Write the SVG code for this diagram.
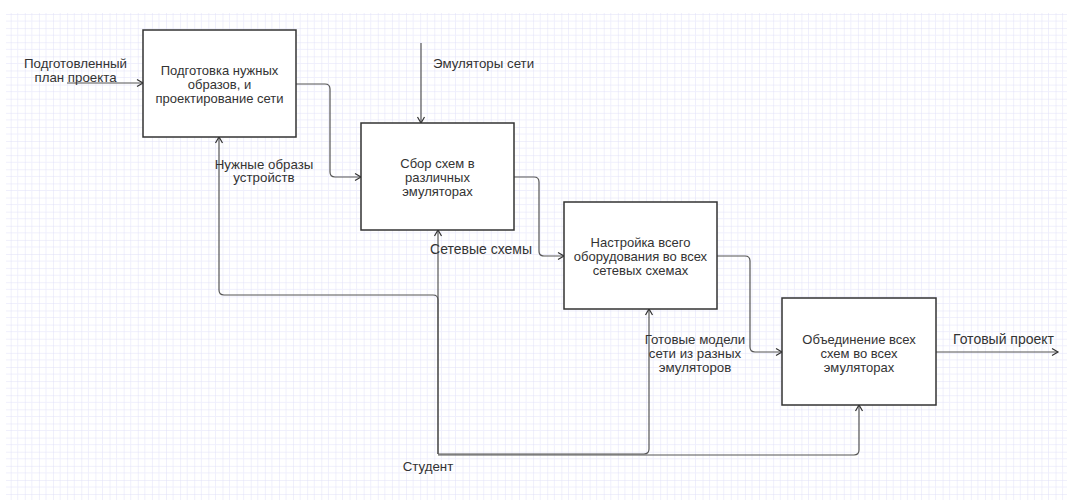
<svg xmlns="http://www.w3.org/2000/svg" width="1067" height="500" viewBox="0 0 1067 500">
  <defs>
    <pattern id="grid" patternUnits="userSpaceOnUse" x="10.7" y="14" width="14.12" height="14.12">
      <path d="M7.06,0 V14.12 M0,7.06 H14.12" stroke="#efeffc" stroke-width="1" fill="none"/>
      <path d="M0,0 V14.12 M0,0 H14.12" stroke="#e0e0f7" stroke-width="1" fill="none"/>
    </pattern>
    <marker id="arr" markerWidth="10" markerHeight="10" refX="8" refY="5" orient="auto" markerUnits="userSpaceOnUse">
      <path d="M2,1.5 L8,5 L2,8.5" fill="none" stroke="#333" stroke-width="1.2"/>
    </marker>
    <style>
      .box { fill: #ffffff; stroke: #333333; stroke-width: 1.5; }
      .t { font-family: "Liberation Sans", Arial, sans-serif; font-size: 13px; fill: #333333; }
      .l { font-size: 13.3px; }
      .xl { font-size: 14px; }
      .c { text-anchor: middle; }
      .edge { fill: none; stroke: #555555; stroke-width: 1.2; marker-end: url(#arr); }
    </style>
  </defs>
  <rect width="1067" height="500" fill="#ffffff"/>
  <rect x="6" y="13" width="1061" height="487" fill="url(#grid)"/>

  <g id="connectors">
    <path class="edge" d="M67,83 H143"/>
    <path class="edge" d="M296,84 H325 Q330,84 330,89 V172 Q330,177 335,177 H361"/>
    <path class="edge" d="M421,43 V123"/>
    <path class="edge" d="M514,177 H534 Q539,177 539,182 V251 Q539,256 544,256 H564"/>
    <path class="edge" d="M717,256 H745 Q750,256 750,261 V347 Q750,352 755,352 H782"/>
    <path class="edge" d="M936,352 H1058"/>
    <path class="edge" d="M438,454 V230"/>
    <path class="edge" d="M438,454 V300 Q438,295 433,295 H224 Q219,295 219,290 V137"/>
    <path class="edge" d="M438,454 H644 Q649,454 649,449 V309"/>
    <path class="edge" d="M438,455 H854 Q859,455 859,450 V405"/>
  </g>

  <g id="node-prep">
    <rect class="box" x="143" y="30" width="153" height="107"/>
    <text class="t c" x="219.5" y="74.5">Подготовка нужных</text>
    <text class="t c" x="219.5" y="88.5">образов, и</text>
    <text class="t c" x="219.5" y="102.5">проектирование сети</text>
  </g>
  <g id="node-collect">
    <rect class="box" x="361" y="123" width="153" height="107"/>
    <text class="t c" x="437.5" y="167.5">Сбор схем в</text>
    <text class="t c" x="437.5" y="181.5">различных</text>
    <text class="t c" x="437.5" y="195.5">эмуляторах</text>
  </g>
  <g id="node-config">
    <rect class="box" x="564" y="202" width="153" height="107"/>
    <text class="t c" x="640.5" y="246.5">Настройка всего</text>
    <text class="t c" x="640.5" y="260.5">оборудования во всех</text>
    <text class="t c" x="640.5" y="274.5">сетевых схемах</text>
  </g>
  <g id="node-merge">
    <rect class="box" x="782" y="298" width="154" height="107"/>
    <text class="t c" x="859" y="343.5">Объединение всех</text>
    <text class="t c" x="859" y="357.5">схем во всех</text>
    <text class="t c" x="859" y="371.5">эмуляторах</text>
  </g>

  <g id="labels">
    <text class="t l c" x="75.5" y="67.5">Подготовленный</text>
    <text class="t l c" x="75.5" y="81.5">план проекта</text>
    <text class="t l" x="433" y="67.5">Эмуляторы сети</text>
    <text class="t l c" x="264" y="168.5">Нужные образы</text>
    <text class="t l c" x="264" y="181.5">устройств</text>
    <text class="t xl c" x="481" y="254">Сетевые схемы</text>
    <text class="t l c" x="695" y="343.5">Готовые модели</text>
    <text class="t l c" x="695" y="357.5">сети из разных</text>
    <text class="t l c" x="695" y="371.5">эмуляторов</text>
    <text class="t xl" x="953" y="344">Готовый проект</text>
    <text class="t l c" x="428" y="470.5">Студент</text>
  </g>
</svg>
